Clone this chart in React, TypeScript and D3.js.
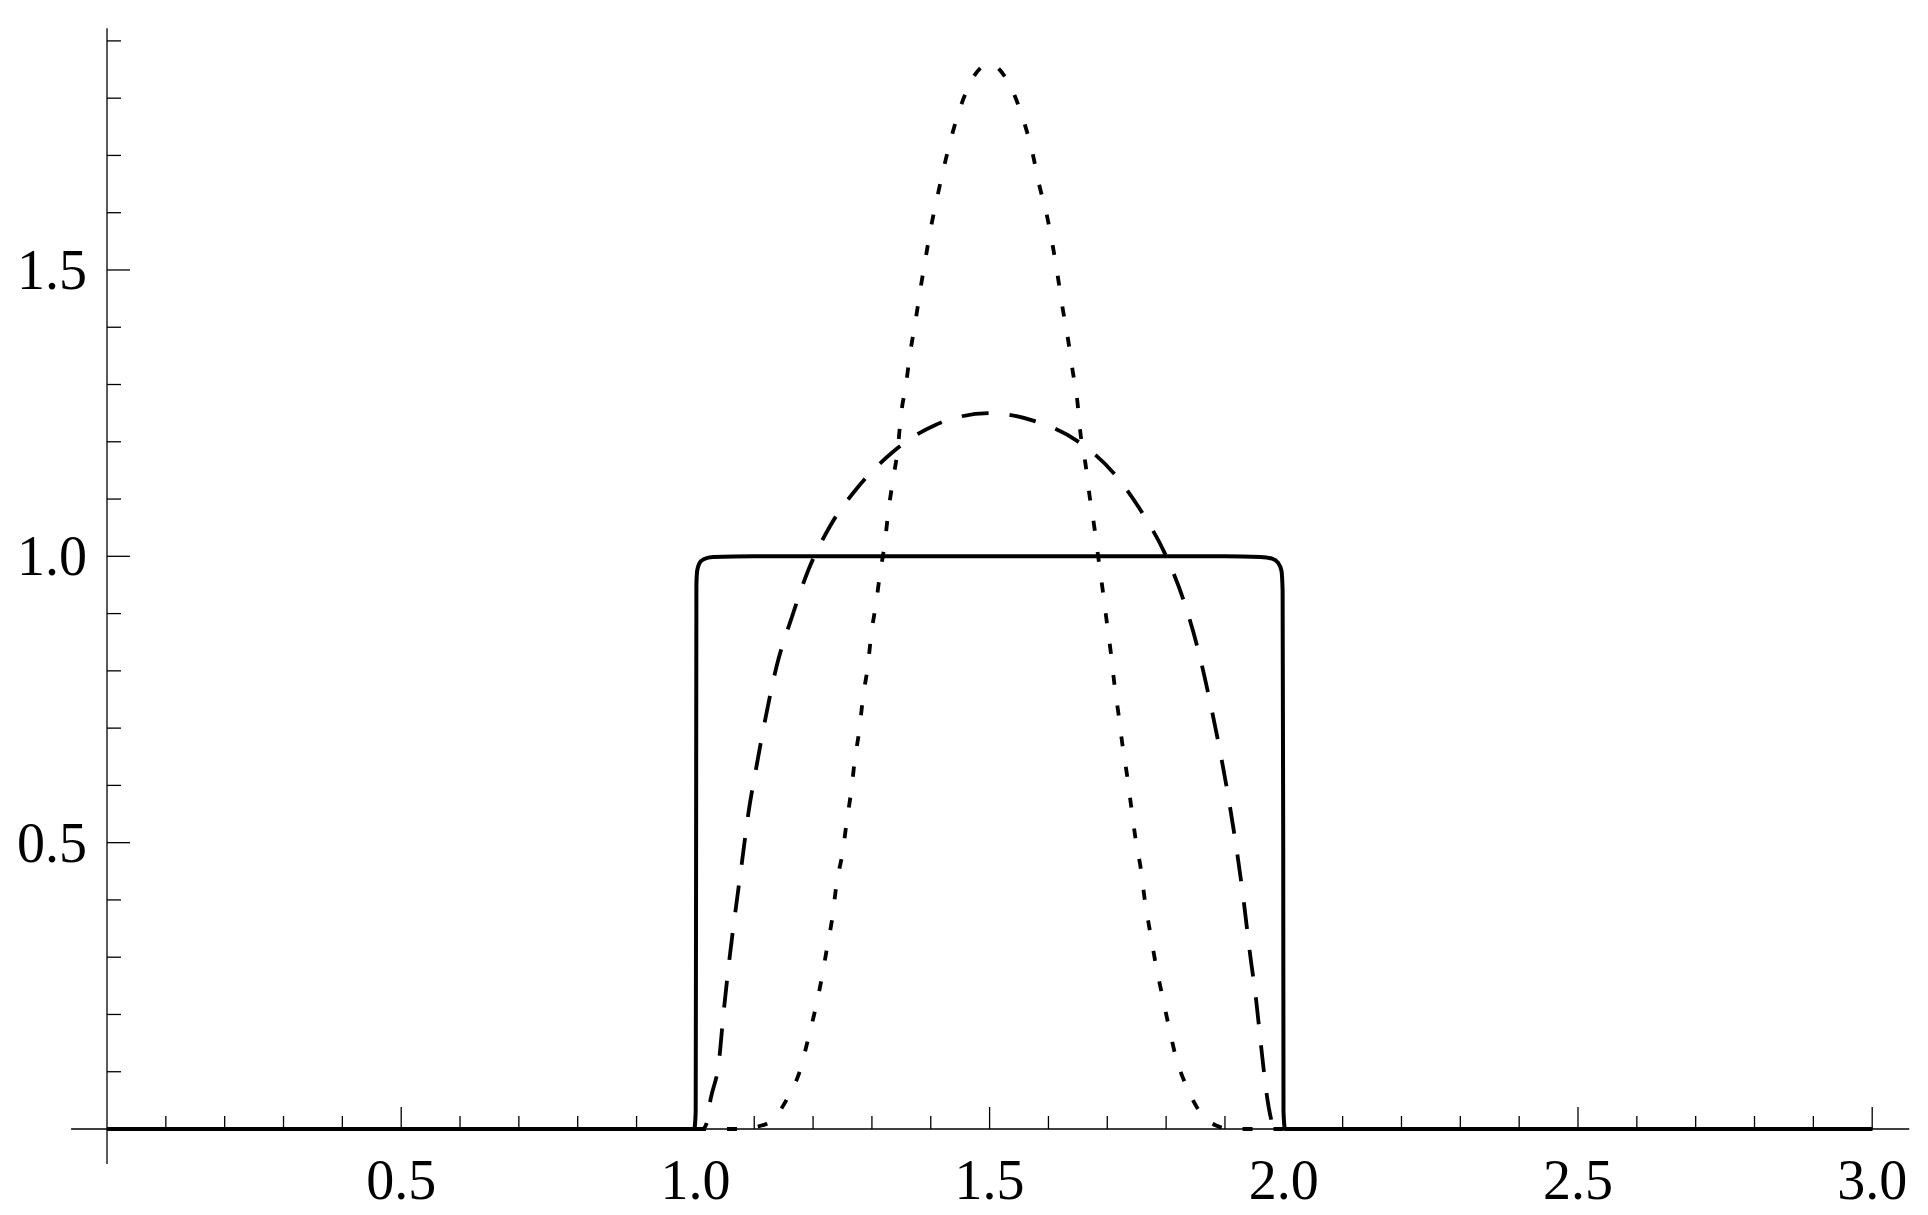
import React from 'react';
import * as d3 from 'd3';

// tick labels
const xMajorTicks = [0.5, 1.0, 1.5, 2.0, 2.5, 3.0];
const xTickLabels = ['0.5', '1.0', '1.5', '2.0', '2.5', '3.0'];
const yMajorTicks = [0.5, 1.0, 1.5];
const yTickLabels = ['0.5', '1.0', '1.5'];

// curves as [x, y]
const solidCurve: [number, number][] = [
  [0, 0], [0.998, 0], [1.0005, 0.03], [1.0012, 0.5], [1.0017, 0.95], [1.003, 0.975],
  [1.007, 0.988], [1.014, 0.995], [1.03, 0.999], [1.1, 1.0], [1.5, 1.0], [1.9, 1.0],
  [1.96, 0.999], [1.98, 0.996], [1.99, 0.989], [1.996, 0.975], [1.998, 0.94],
  [1.999, 0.5], [1.9995, 0.03], [2.002, 0], [3, 0],
];

const dashedCurve: [number, number][] = [
  [0, 0], [1.0, 0], [1.012, 0], [1.018, 0.007], [1.026, 0.053], [1.04, 0.118],
  [1.048, 0.204], [1.058, 0.298], [1.068, 0.38], [1.079, 0.465], [1.09, 0.551],
  [1.1045, 0.637], [1.12, 0.722], [1.138, 0.808], [1.164, 0.894], [1.192, 0.976],
  [1.229, 1.053], [1.274, 1.118], [1.333, 1.18], [1.407, 1.229], [1.5, 1.25],
  [1.574, 1.237], [1.648, 1.202], [1.711, 1.145], [1.76, 1.075], [1.801, 0.998],
  [1.832, 0.916], [1.856, 0.83], [1.875, 0.744], [1.892, 0.658], [1.907, 0.572],
  [1.92, 0.487], [1.932, 0.397], [1.942, 0.311], [1.953, 0.225], [1.962, 0.139],
  [1.972, 0.053], [1.982, 0.006], [1.988, 0], [3, 0],
];

const dottedCurve: [number, number][] = [
  [0, 0], [1.0, 0], [1.08, 0], [1.1, 0.003], [1.126, 0.012], [1.158, 0.057],
  [1.179, 0.106], [1.192, 0.159], [1.2045, 0.212], [1.215, 0.265], [1.224, 0.318],
  [1.233, 0.371], [1.24, 0.429], [1.25, 0.482], [1.257, 0.535], [1.265, 0.592],
  [1.271, 0.645], [1.279, 0.7], [1.285, 0.755], [1.293, 0.808], [1.299, 0.865],
  [1.307, 0.918], [1.314, 0.971], [1.322, 1.024], [1.328, 1.079], [1.336, 1.135],
  [1.344, 1.188], [1.349, 1.243], [1.358, 1.301], [1.365, 1.355], [1.374, 1.41],
  [1.382, 1.464], [1.391, 1.519], [1.4, 1.573], [1.411, 1.627], [1.4225, 1.68],
  [1.4356, 1.734], [1.451, 1.786], [1.472, 1.836], [1.5, 1.86],
  [1.527, 1.836], [1.541, 1.808], [1.559, 1.757], [1.573, 1.704], [1.584, 1.65],
  [1.597, 1.597], [1.607, 1.544], [1.616, 1.488], [1.624, 1.434], [1.633, 1.381],
  [1.641, 1.325], [1.649, 1.272], [1.6545, 1.214], [1.663, 1.161], [1.67, 1.105],
  [1.678, 1.051], [1.685, 0.996], [1.692, 0.943], [1.699, 0.887], [1.706, 0.832],
  [1.712, 0.778], [1.719, 0.725], [1.726, 0.669], [1.734, 0.615], [1.741, 0.56],
  [1.748, 0.507], [1.757, 0.454], [1.764, 0.398], [1.773, 0.343], [1.782, 0.29],
  [1.793, 0.235], [1.804, 0.182], [1.816, 0.128], [1.834, 0.076], [1.858, 0.029],
  [1.885, 0.006], [1.91, 0], [3, 0],
];

const isMajor = (v: number, majors: number[]) => majors.some(m => Math.abs(m - v) < 1e-6);

export default function App() {
  const width = 1928, height = 1215;

  const x = d3.scaleLinear().domain([0, 3]).range([107, 1872.2]);
  const y = d3.scaleLinear().domain([0, 1.9]).range([1129, 40.9]);

  const line = d3.line<[number, number]>()
    .x(d => x(d[0]))
    .y(d => y(d[1]))
    .curve(d3.curveMonotoneX);

  const xMinor = x.ticks(30).filter(v => v > 0 && !isMajor(v, xMajorTicks));
  const yMinor = y.ticks(19).filter(v => v > 0 && !isMajor(v, yMajorTicks));

  const font = '"Liberation Serif", "Times New Roman", serif';

  return (
    <svg width={width} height={height} style={{ position: 'absolute', left: 0, top: 0, background: '#fff' }}>
      {/* axes */}
      <g stroke="#000" strokeWidth={1.3}>
        <line x1={x(-0.061)} x2={x(3.063)} y1={y(0)} y2={y(0)} />
        <line x1={x(0)} x2={x(0)} y1={y(-0.061)} y2={y(1.922)} />
        {xMinor.map(v => (
          <line key={'xm' + v} x1={x(v)} x2={x(v)} y1={y(0)} y2={y(0) - 13} />
        ))}
        {xMajorTicks.map(v => (
          <line key={'xM' + v} x1={x(v)} x2={x(v)} y1={y(0)} y2={y(0) - 22} />
        ))}
        {yMinor.map(v => (
          <line key={'ym' + v} x1={x(0)} x2={x(0) + 14} y1={y(v)} y2={y(v)} />
        ))}
        {yMajorTicks.map(v => (
          <line key={'yM' + v} x1={x(0)} x2={x(0) + 23} y1={y(v)} y2={y(v)} />
        ))}
      </g>

      <g fontFamily={font} fontSize={56} fill="#000">
        {xMajorTicks.map((v, i) => (
          <text key={'xl' + v} x={x(v)} y={y(0) + 70} textAnchor="middle">{xTickLabels[i]}</text>
        ))}
        {yMajorTicks.map((v, i) => (
          <text key={'yl' + v} x={x(0) - 20} y={y(v) + 19} textAnchor="end">{yTickLabels[i]}</text>
        ))}
      </g>

      {/* curves */}
      <path d={line(dottedCurve) || ''} fill="none" stroke="#000" strokeWidth={3.8} strokeDasharray="10 21" />
      <path d={line(dashedCurve) || ''} fill="none" stroke="#000" strokeWidth={3.8} strokeDasharray="27 21" />
      <path d={line(solidCurve) || ''} fill="none" stroke="#000" strokeWidth={4} />
    </svg>
  );
}
